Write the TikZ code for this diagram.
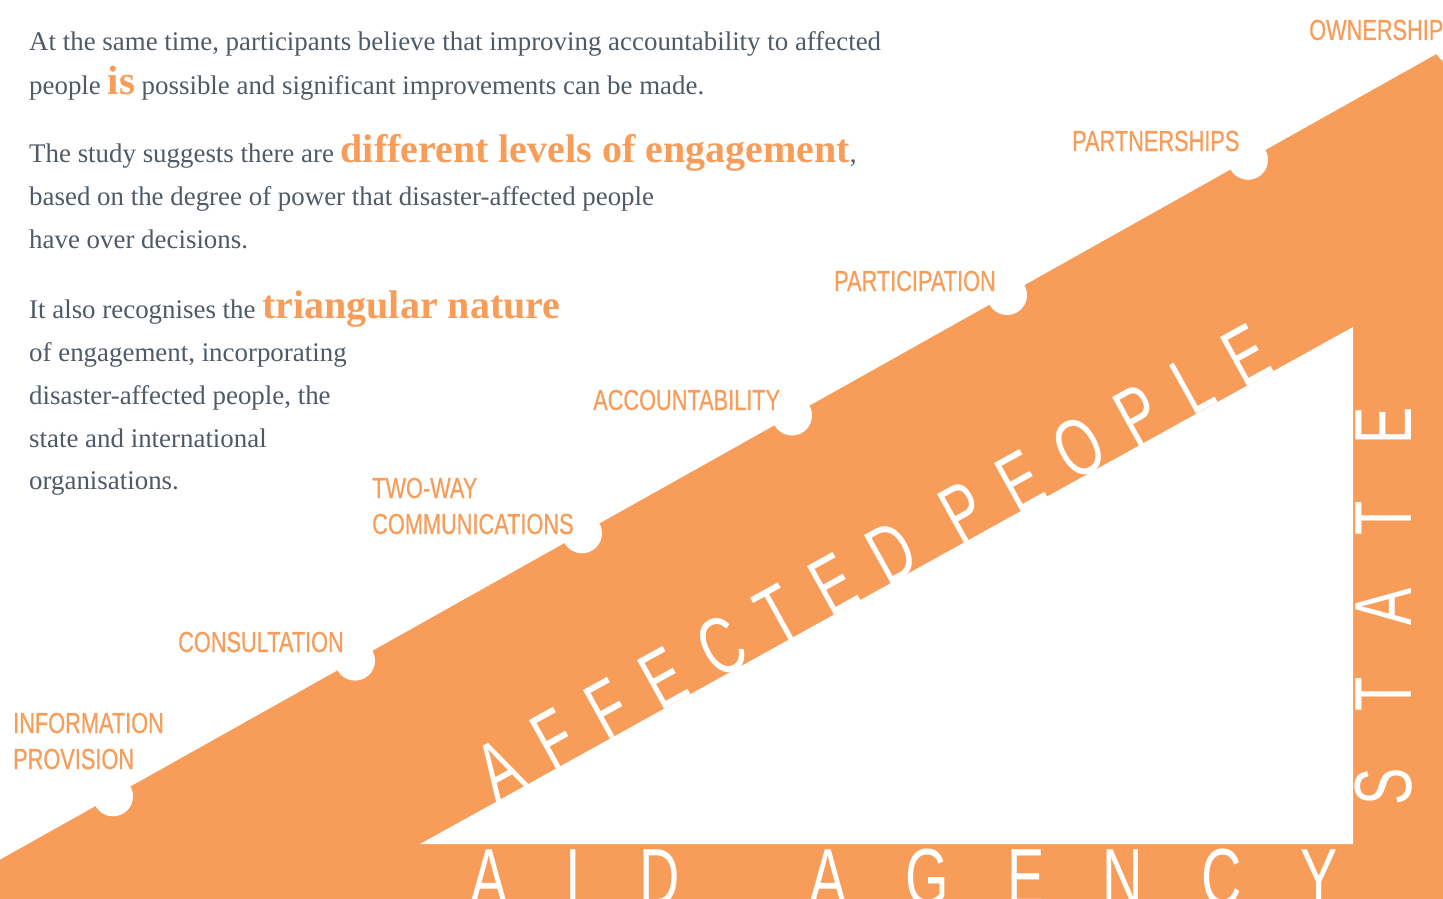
\documentclass[tikz,border=0pt]{standalone}
\usepackage{fontspec}
\setmainfont{Liberation Serif}
\newfontfamily\lblfont[FakeStretch=0.75,FakeBold=0.6]{Liberation Sans}
\newfontfamily\bigfont[FakeStretch=0.69]{Liberation Sans}
\definecolor{aorange}{HTML}{F79D59}
\definecolor{bodygrey}{HTML}{4E5A66}
\newcommand{\hlt}[2]{{\color{aorange}\bfseries\fontsize{#1}{#1}\selectfont #2}}
\tikzset{
  body/.style={anchor=base west, inner sep=0pt, text=bodygrey, font=\fontsize{26.9}{26.9}\selectfont},
  lvl/.style={anchor=base west, inner sep=0pt, text=aorange, font=\lblfont\fontsize{29}{36}\selectfont, align=left},
  bigtxt/.style={inner sep=0pt, anchor=base west, text=white, font=\bigfont\fontsize{81}{81}\selectfont},
  notch/.style={fill=white, draw=none}
}
\begin{document}
\begin{tikzpicture}[x=1pt,y=-1pt]
\useasboundingbox (0,0) rectangle (1443,899);
\clip (0,0) rectangle (1443,899);
% big orange wedge
\fill[aorange] (0,859.7) -- (1500,18.5) -- (1500,950) -- (0,950) -- cycle;
% notches
\foreach \cx/\cy in {113/796.3, 355/660.6, 582/533.3, 792/415.5, 1007/295.0, 1248/159.8, 1454/44.3}
  \fill[notch] (\cx,\cy) circle[radius=20];
% inner white triangle
\fill[white] (420,844) -- (1353,327) -- (1353,844) -- cycle;
% white words
\node[bigtxt, rotate=29] (people) at (496,803) {\addfontfeature{LetterSpace=34}AFFECTED PEOPLE};
\node[bigtxt, rotate=90] (state) at (1411,806) {\addfontfeature{LetterSpace=70}STATE};
\node[bigtxt] (agency) at (470,905) {\addfontfeature{LetterSpace=72}AID \hspace{56pt}AGENCY};
% level labels
\node[lvl] (info) at (13,769) {INFORMATION\\PROVISION};
\node[lvl] (consult) at (178,652) {CONSULTATION};
\node[lvl] (twoway) at (372,534) {TWO-WAY\\COMMUNICATIONS};
\node[lvl] (account) at (593,410) {ACCOUNTABILITY};
\node[lvl] (partic) at (834,291) {PARTICIPATION};
\node[lvl] (partner) at (1072,151) {PARTNERSHIPS};
\node[lvl] (owner) at (1309,40) {OWNERSHIP};
% body text
\node[body] (t1) at (29,51) {At the same time, participants believe that improving accountability to affected};
\node[body] (t2) at (29,94) {people \hlt{41}{is} possible and significant improvements can be made.};
\node[body] (t3) at (29,162) {The study suggests there are \hlt{40}{different levels of engagement},};
\node[body] (t4) at (29,205) {based on the degree of power that disaster-affected people};
\node[body] (t5) at (29,248) {have over decisions.};
\node[body] (t6) at (29,318) {It also recognises the \hlt{40}{triangular nature}};
\node[body] (t7) at (29,361) {of engagement, incorporating};
\node[body] (t8) at (29,404) {disaster-affected people, the};
\node[body] (t9) at (29,447) {state and international};
\node[body] (t10) at (29,489) {organisations.};
\end{tikzpicture}
\end{document}
